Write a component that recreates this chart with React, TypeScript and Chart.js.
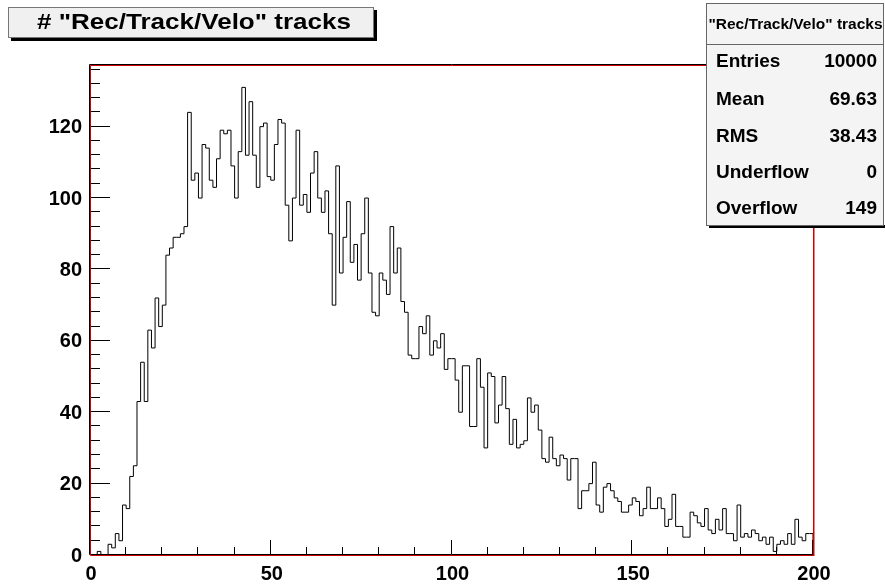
import React, { useEffect, useRef } from "react";
import { Chart, registerables } from "chart.js";

Chart.register(...registerables);

// Histogram "Rec/Track/Velo" tracks: 200 bins, 0..200
const BIN_LOW = 0;
const BIN_HIGH = 200;
const COUNTS = [
  0, 0, 0, 1, 0, 0, 3, 2, 6, 4,
  14, 13, 22, 25, 43, 54, 43, 63, 58, 72,
  64, 70, 84, 86, 89, 89, 90, 92, 124, 105,
  107, 100, 115, 114, 105, 103, 111, 119, 118, 119,
  109, 100, 113, 131, 112, 127, 112, 103, 120, 121,
  106, 105, 115, 122, 121, 98, 88, 100, 119, 98,
  101, 96, 107, 113, 100, 96, 102, 90, 70, 109,
  79, 89, 99, 82, 87, 77, 90, 100, 79, 68,
  67, 79, 77, 73, 92, 79, 86, 71, 68, 56,
  55, 55, 64, 62, 67, 56, 60, 58, 62, 52,
  55, 55, 49, 40, 53, 53, 36, 36, 55, 47,
  30, 51, 50, 37, 42, 50, 41, 31, 38, 30,
  31, 32, 44, 40, 42, 35, 27, 26, 33, 27,
  25, 28, 27, 21, 27, 27, 13, 18, 18, 20,
  26, 14, 12, 19, 20, 18, 16, 15, 12, 12,
  14, 16, 15, 11, 13, 19, 13, 13, 16, 13,
  8, 10, 17, 8, 8, 5, 5, 12, 11, 9,
  8, 13, 7, 6, 10, 7, 13, 6, 6, 4,
  14, 5, 6, 5, 7, 6, 4, 5, 3, 5,
  1, 3, 4, 3, 6, 3, 10, 5, 4, 6,
];
const Y_MAX = 137.55;
const X_MAJOR = [0, 50, 100, 150, 200];
const X_MINOR_STEP = 10;
const Y_MAJOR = [0, 20, 40, 60, 80, 100, 120];
const Y_MINOR_STEP = 4;

const TITLE = '# "Rec/Track/Velo" tracks';
const STATS_TITLE = '"Rec/Track/Velo" tracks';
const STATS_LABELS = ["Entries", "Mean", "RMS", "Underflow", "Overflow"];
const STATS_VALUES = ["10000", "69.63", "38.43", "0", "149"];

const FONT = '"Liberation Sans", Arial, Helvetica, sans-serif';
const RED = "#d00000";

function fitText(ctx: CanvasRenderingContext2D, text: string, cx: number, cy: number, width: number) {
  const w = ctx.measureText(text).width;
  const s = width / w;
  ctx.save();
  ctx.translate(cx, cy);
  ctx.scale(s, 1);
  ctx.textAlign = "center";
  ctx.fillText(text, 0, 0);
  ctx.restore();
}

const rootPlugin = {
  id: "rootDecor",
  afterDraw(chart: any) {
    const ctx = chart.ctx;
    const xs = chart.scales.x;
    const ys = chart.scales.y;
    const a = chart.chartArea;
    const L = a.left, R = a.right, T = a.top, B = a.bottom;
    ctx.save();
    ctx.lineWidth = 1;

    // frame: black on top, left and bottom
    ctx.strokeStyle = "#000";
    ctx.beginPath();
    ctx.moveTo(R, T + 0.5);
    ctx.lineTo(L - 0.5, T + 0.5);
    ctx.lineTo(L - 0.5, B - 0.5);
    ctx.lineTo(R, B - 0.5);
    ctx.stroke();
    // red axis lines, one pixel inside/below
    ctx.strokeStyle = RED;
    ctx.beginPath();
    ctx.moveTo(R + 1, T + 1.5);
    ctx.lineTo(L + 0.5, T + 1.5);
    ctx.lineTo(L + 0.5, B + 0.5);
    ctx.lineTo(R + 0.5, B + 0.5);
    ctx.lineTo(R + 0.5, T + 1);
    ctx.stroke();
    ctx.lineWidth = 1.5;
    ctx.beginPath();
    ctx.moveTo(R + 0.75, T);
    ctx.lineTo(R + 0.75, B + 1);
    ctx.stroke();
    ctx.lineWidth = 1;

    // y ticks (inside, from left axis)
    ctx.strokeStyle = "#000";
    for (let v = 0; v <= Y_MAX; v += Y_MINOR_STEP) {
      const y = Math.round(ys.getPixelForValue(v)) - 0.5;
      const major = v % 20 === 0;
      ctx.beginPath();
      ctx.moveTo(L + 1, y);
      ctx.lineTo(L + (major ? 20 : 10), y);
      ctx.stroke();
    }
    // x ticks (inside, from bottom axis)
    for (let v = BIN_LOW; v <= BIN_HIGH; v += X_MINOR_STEP) {
      const x = Math.round(xs.getPixelForValue(v)) - 0.5;
      const major = X_MAJOR.includes(v);
      ctx.beginPath();
      ctx.moveTo(x, B - 1);
      ctx.lineTo(x, B - 1 - (major ? 14 : 7));
      ctx.stroke();
    }

    // tick labels
    ctx.fillStyle = "#000";
    ctx.font = `bold 20px ${FONT}`;
    ctx.textAlign = "right";
    ctx.textBaseline = "middle";
    for (const v of Y_MAJOR) {
      ctx.fillText(String(v), L - 8, ys.getPixelForValue(v) + 1);
    }
    ctx.textAlign = "center";
    ctx.textBaseline = "top";
    for (const v of X_MAJOR) {
      ctx.fillText(String(v), xs.getPixelForValue(v) + 1, B + 9);
    }

    // title box with shadow
    ctx.fillStyle = "#000";
    ctx.fillRect(11, 10, 366, 31);
    ctx.fillStyle = "#f0f0f0";
    ctx.fillRect(8, 7, 366, 31);
    ctx.strokeStyle = "#777";
    ctx.strokeRect(8.5, 7.5, 365, 30);
    ctx.fillStyle = "#000";
    ctx.font = `bold 22px ${FONT}`;
    ctx.textBaseline = "middle";
    fitText(ctx, TITLE, 194, 23, 314);

    // stats box with shadow
    const bx = 706, by = 3, bw = 177, bh = 222;
    ctx.fillStyle = "#000";
    ctx.fillRect(bx + 3, by + bh, bw + 3, 3);
    ctx.fillStyle = "#f4f4f4";
    ctx.fillRect(bx, by, bw, bh);
    ctx.strokeStyle = "#666";
    ctx.strokeRect(bx + 0.5, by + 0.5, bw, bh);
    ctx.beginPath();
    ctx.moveTo(bx, 44.5);
    ctx.lineTo(bx + bw, 44.5);
    ctx.stroke();
    ctx.fillStyle = "#000";
    ctx.font = `bold 15.5px ${FONT}`;
    ctx.textAlign = "center";
    ctx.fillText(STATS_TITLE, bx + bw / 2 + 1, 25);
    ctx.font = `bold 19px ${FONT}`;
    const rowY = [62, 100, 137, 173, 209];
    STATS_LABELS.forEach((lab, i) => {
      ctx.textAlign = "left";
      ctx.fillText(lab, 716, rowY[i]);
      ctx.textAlign = "right";
      ctx.fillText(STATS_VALUES[i], 877, rowY[i]);
    });
    ctx.restore();
  },
};

export default function App() {
  const ref = useRef<HTMLCanvasElement | null>(null);
  useEffect(() => {
    document.body.style.margin = "0";
    const canvas = ref.current;
    if (!canvas) return;
    const pts: { x: number; y: number }[] = [{ x: BIN_LOW, y: 0 }];
    COUNTS.forEach((c, i) => pts.push({ x: BIN_LOW + i, y: c }));
    pts.push({ x: BIN_HIGH, y: COUNTS[COUNTS.length - 1] });
    pts.push({ x: BIN_HIGH, y: 0 });
    const chart = new Chart(canvas, {
      type: "line",
      data: {
        datasets: [
          {
            data: pts,
            stepped: "after",
            borderColor: "#000",
            borderWidth: 1,
            pointRadius: 0,
            fill: false,
          },
        ],
      },
      options: {
        animation: false,
        responsive: false,
        events: [],
        layout: { padding: { left: 0, top: 64, right: 72, bottom: 0 } },
        plugins: { legend: { display: false }, tooltip: { enabled: false }, title: { display: false } },
        scales: {
          x: {
            type: "linear",
            min: BIN_LOW,
            max: BIN_HIGH,
            grid: { display: false },
            border: { display: false },
            ticks: { display: false },
            afterFit: (s: any) => { s.height = 32; },
          },
          y: {
            type: "linear",
            min: 0,
            max: Y_MAX,
            grid: { display: false },
            border: { display: false },
            ticks: { display: false },
            afterFit: (s: any) => { s.width = 90; },
          },
        },
      },
      plugins: [rootPlugin],
    });
    return () => chart.destroy();
  }, []);
  return (
    <div style={{ position: "absolute", left: 0, top: 0, width: 885, height: 587, background: "#fff" }}>
      <canvas ref={ref} width={885} height={587} style={{ display: "block" }} />
    </div>
  );
}
